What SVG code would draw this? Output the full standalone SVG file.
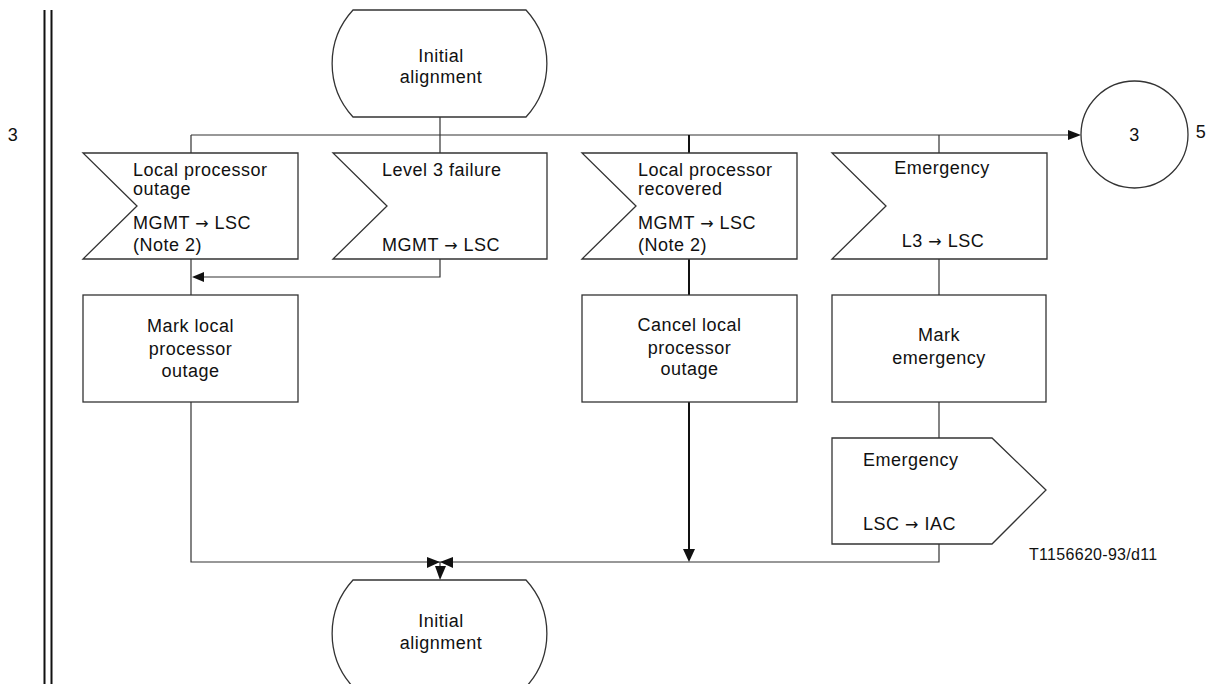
<svg xmlns="http://www.w3.org/2000/svg" width="1210" height="684" viewBox="0 0 1210 684">
<style>
.s{fill:#fff;stroke:#333;stroke-width:1.3}
.c{fill:none;stroke:#333;stroke-width:1.2}
.ck{fill:none;stroke:#111;stroke-width:2}
.t{font-family:"Liberation Sans",Arial,sans-serif;font-size:18px;fill:#111;letter-spacing:0.5px}
.m{text-anchor:middle}
.ar{font-family:"DejaVu Sans",sans-serif;font-size:16px}
.ah{fill:#111;stroke:none}
</style>
<rect width="1210" height="684" fill="#fff"/>
<g id="border">
<line x1="44.5" y1="10" x2="44.5" y2="684" stroke="#111" stroke-width="2"/>
<line x1="51.5" y1="10" x2="51.5" y2="684" stroke="#111" stroke-width="2"/>
<text class="t m" x="13" y="141">3</text>
</g>
<g id="connectors">
<path class="c" d="M440,117V135M191,135H1070M191,135V153M440,135V153M939,135V153"/>
<path class="ck" d="M689,135V153"/>
<path class="c" d="M440,259V277H202"/>
<path class="c" d="M191,259V295M939,259V295M939,402V438M939,544V562H191V402"/>
<path class="ck" d="M689,259V295M689,402V551"/>
<path class="c" d="M440,562V568"/>
<polygon class="ah" points="1081,135 1068,130 1068,140"/>
<polygon class="ah" points="192,277 204,272 204,282"/>
<polygon class="ah" points="689,562 683,549 695,549"/>
<polygon class="ah" points="440,562 427,557 427,568"/>
<polygon class="ah" points="440,562 453,557 453,568"/>
<polygon class="ah" points="440,580 435,566 446,566"/>
</g>
<g id="start">
<path class="s" d="M353,10H526A79,79 0 0 1 526,117H353A79,79 0 0 1 353,10Z"/>
<text class="t m" x="441" y="62">Initial</text>
<text class="t m" x="441" y="83">alignment</text>
</g>
<g id="in1">
<path class="s" d="M83,153H298V259H83L137,206Z"/>
<text class="t" x="133" y="176">Local processor</text>
<text class="t" x="133" y="195">outage</text>
<text class="t" x="133" y="229">MGMT <tspan class="ar">→</tspan> LSC</text>
<text class="t" x="133" y="251">(Note 2)</text>
</g>
<g id="in2">
<path class="s" d="M333,153H547V259H333L387,206Z"/>
<text class="t" x="382" y="176">Level 3 failure</text>
<text class="t" x="382" y="251">MGMT <tspan class="ar">→</tspan> LSC</text>
</g>
<g id="in3">
<path class="s" d="M582,153H797V259H582L636,206Z"/>
<text class="t" x="638" y="176">Local processor</text>
<text class="t" x="638" y="195">recovered</text>
<text class="t" x="638" y="229">MGMT <tspan class="ar">→</tspan> LSC</text>
<text class="t" x="638" y="251">(Note 2)</text>
</g>
<g id="in4">
<path class="s" d="M832,153H1047V259H832L886,206Z"/>
<text class="t m" x="942" y="174">Emergency</text>
<text class="t m" x="943" y="247">L3 <tspan class="ar">→</tspan> LSC</text>
</g>
<g id="conn3">
<circle class="s" cx="1134.5" cy="134.5" r="53.5"/>
<text class="t m" x="1134.5" y="141">3</text>
<text class="t m" x="1201" y="138">5</text>
</g>
<g id="task1">
<rect class="s" x="83" y="295" width="215" height="107"/>
<text class="t m" x="190.5" y="332">Mark local</text>
<text class="t m" x="190.5" y="355">processor</text>
<text class="t m" x="190.5" y="377">outage</text>
</g>
<g id="task3">
<rect class="s" x="582" y="295" width="215" height="107"/>
<text class="t m" x="689.5" y="331">Cancel local</text>
<text class="t m" x="689.5" y="354">processor</text>
<text class="t m" x="689.5" y="375">outage</text>
</g>
<g id="task4">
<rect class="s" x="832" y="295" width="214" height="107"/>
<text class="t m" x="939" y="341">Mark</text>
<text class="t m" x="939" y="364">emergency</text>
</g>
<g id="out1">
<path class="s" d="M832,438H992L1046,490L992,544H832Z"/>
<text class="t" x="863" y="466">Emergency</text>
<text class="t" x="863" y="530">LSC <tspan class="ar">→</tspan> IAC</text>
</g>
<g id="end">
<path class="s" d="M353,580H526A79,79 0 0 1 526,687H353A79,79 0 0 1 353,580Z"/>
<text class="t m" x="441" y="627">Initial</text>
<text class="t m" x="441" y="649">alignment</text>
</g>
<text class="t" x="1029" y="560" style="font-size:16px;letter-spacing:0.3px">T1156620-93/d11</text>
</svg>
